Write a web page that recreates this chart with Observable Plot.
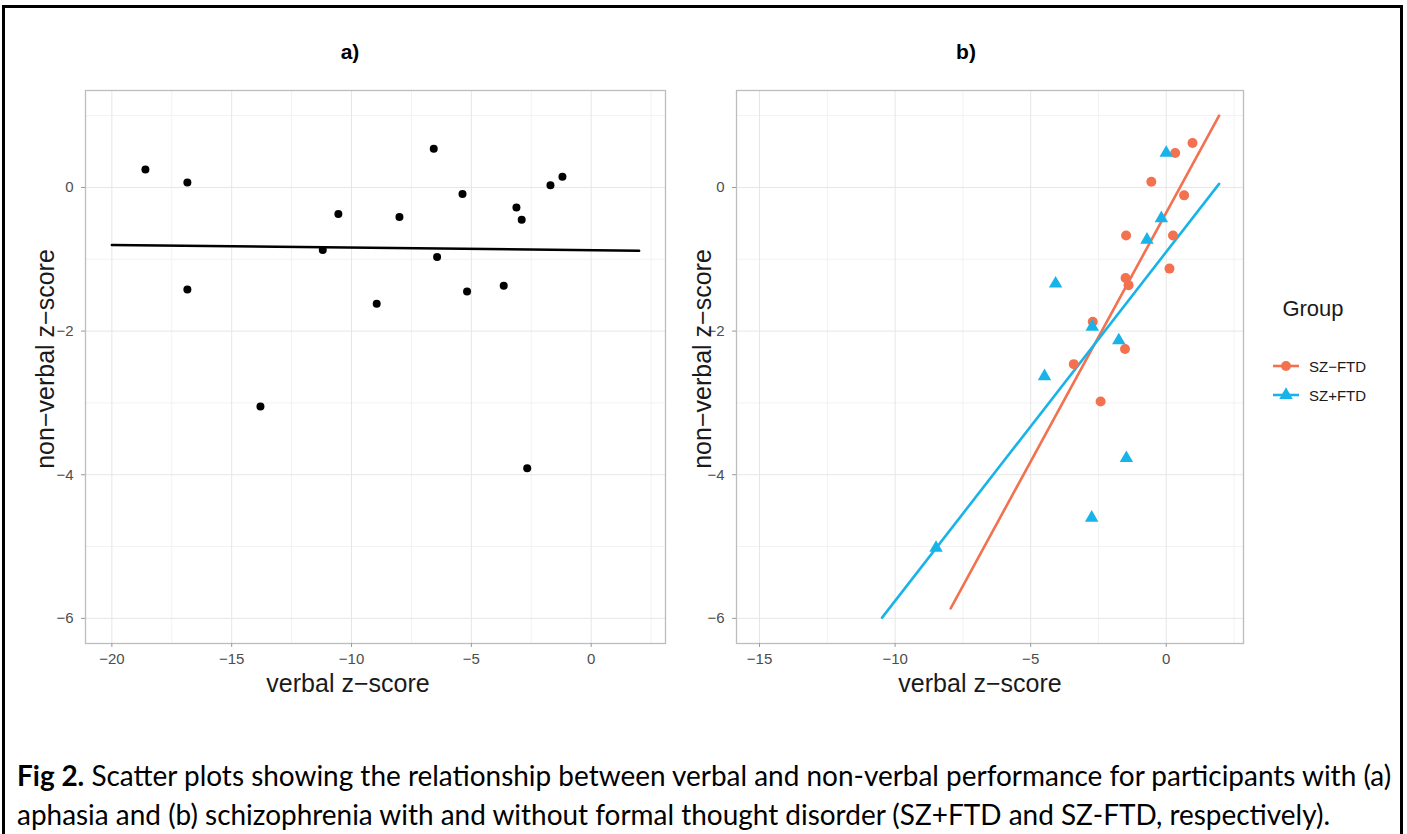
<!DOCTYPE html>
<html><head><meta charset="utf-8">
<script src="https://cdn.jsdelivr.net/npm/d3@7"></script>
<script src="https://cdn.jsdelivr.net/npm/@observablehq/plot@0.6"></script>
<style>
body{margin:0;background:#fff;font-family:"Liberation Sans",Arial,sans-serif;}
#page{position:relative;width:1407px;height:834px;overflow:hidden;background:#fff;}
#frame{position:absolute;left:2px;top:5px;width:1401px;height:900px;border:3px solid #000;box-sizing:border-box;}
.abs{position:absolute;white-space:nowrap;}
.c{transform:translate(-50%,-50%);}
.title{font-weight:bold;font-size:21px;color:#000;}
.axt{font-size:25px;color:#1a1a1a;}
.gt{font-size:22px;color:#1a1a1a;}
.ylab{transform:translate(-50%,-50%) rotate(-90deg);}
.leg{font-size:15px;color:#1a1a1a;}
.cap{font-family:Lato,"Open Sans",sans-serif;font-size:28px;line-height:1.15;color:#000;transform:translateY(-50%);}
svg [aria-label$="-axis tick"]{stroke:#9a9a9a;}
</style></head>
<body><div id="page"><div id="frame"></div></div>
<script>
// ---- Panel a: aphasia ----
const verbalA    = [-18.6, -16.85, -16.85, -13.8, -11.2, -10.55, -8.95, -8.0, -6.57, -6.43, -5.37, -5.18, -3.65, -3.12, -2.9, -2.67, -1.7, -1.2];
const nonverbalA = [0.25, 0.07, -1.42, -3.05, -0.87, -0.37, -1.62, -0.41, 0.54, -0.97, -0.09, -1.45, -1.37, -0.28, -0.45, -3.91, 0.03, 0.15];
const fitAx = [-20, 2];
const fitAy = [-0.80, -0.88];

// ---- Panel b: schizophrenia ----
const groups = ["SZ\u2212FTD", "SZ+FTD"];
const verbalMinus    = [0.33, 0.97, -0.55, 0.66, -1.48, 0.25, 0.12, -1.5, -1.39, -2.71, -1.52, -3.41, -2.42];
const nonverbalMinus = [0.48, 0.62, 0.08, -0.11, -0.67, -0.67, -1.13, -1.26, -1.36, -1.87, -2.25, -2.46, -2.98];
const verbalPlus     = [0.0, -0.18, -0.71, -4.08, -2.73, -1.75, -4.49, -1.47, -2.75, -8.49];
const nonverbalPlus  = [0.48, -0.43, -0.73, -1.34, -1.94, -2.13, -2.63, -3.77, -4.6, -5.02];
const fitMinusX = [-7.95, 1.95];
const fitMinusY = [-5.86, 1.0];
const fitPlusX  = [-10.48, 1.95];
const fitPlusY  = [-5.99, 0.05];

// ---- tick labels ----
const xTicksA = [-20, -15, -10, -5, 0];
const xMinorA = [-17.5, -12.5, -7.5, -2.5, 2.5];
const xTicksB = [-15, -10, -5, 0];
const xMinorB = [-12.5, -7.5, -2.5, 2.5];
const yTicks  = [0, -2, -4, -6];
const yMinor  = [1, -1, -3, -5];

const colors = ["#F3714F", "#18B4E9"];
const gridMajor = "#e6e6e6", gridMinor = "#f2f2f2";

const pointsA = verbalA.map((x, i) => ({x, y: nonverbalA[i]}));
const fitA = fitAx.map((x, i) => ({x, y: fitAy[i]}));
const pointsB = [
  ...verbalMinus.map((x, i) => ({x, y: nonverbalMinus[i], g: groups[0]})),
  ...verbalPlus.map((x, i) => ({x, y: nonverbalPlus[i], g: groups[1]}))
];
const fitB = [
  ...fitMinusX.map((x, i) => ({x, y: fitMinusY[i], g: groups[0]})),
  ...fitPlusX.map((x, i) => ({x, y: fitPlusY[i], g: groups[1]}))
];

const fmt = d3.format("d");
function gridMarks(xMaj, xMin) {
  return [
    Plot.gridX(xMin, {stroke: gridMinor, strokeOpacity: 1, strokeWidth: 1}),
    Plot.gridY(yMinor, {stroke: gridMinor, strokeOpacity: 1, strokeWidth: 1}),
    Plot.gridX(xMaj, {stroke: gridMajor, strokeOpacity: 1, strokeWidth: 1}),
    Plot.gridY(yTicks, {stroke: gridMajor, strokeOpacity: 1, strokeWidth: 1}),
    Plot.frame({stroke: "#bdbdbd", strokeWidth: 1.3}),
    Plot.axisX(xMaj, {tickSize: 4, tickPadding: 6, fontSize: 15, fill: "#4d4d4d", label: null, tickFormat: fmt}),
    Plot.axisY(yTicks, {tickSize: 4, tickPadding: 8, fontSize: 15, fill: "#4d4d4d", label: null, tickFormat: fmt})
  ];
}
const style = {fontFamily: "Liberation Sans, Arial, sans-serif", background: "transparent", overflow: "visible"};

const chartA = Plot.plot({
  width: 700, height: 700,
  marginLeft: 85, marginRight: 35, marginTop: 90, marginBottom: 57,
  x: {domain: [-21.1, 3.1], label: null},
  y: {domain: [-6.35, 1.35], label: null},
  style,
  marks: [
    ...gridMarks(xTicksA, xMinorA),
    Plot.line(fitA, {x: "x", y: "y", stroke: "#000", strokeWidth: 2.5}),
    Plot.dot(pointsA, {x: "x", y: "y", r: 4, fill: "#000"})
  ]
});

const chartB = Plot.plot({
  width: 560, height: 700,
  marginLeft: 46, marginRight: 7, marginTop: 90, marginBottom: 57,
  x: {domain: [-15.85, 2.85], label: null},
  y: {domain: [-6.35, 1.35], label: null},
  color: {domain: groups, range: colors},
  symbol: {domain: groups, range: ["circle", "triangle"]},
  style,
  marks: [
    ...gridMarks(xTicksB, xMinorB),
    Plot.line(fitB, {x: "x", y: "y", z: "g", stroke: "g", strokeWidth: 2.6}),
    Plot.dot(pointsB, {x: "x", y: "y", fill: "g", symbol: "g", r: 5})
  ]
});

const page = document.getElementById("page");
function place(el, left, top) {
  el.style.position = "absolute"; el.style.left = left + "px"; el.style.top = top + "px";
  page.appendChild(el);
}
place(chartA, 0, 0);
place(chartB, 690, 0);

function text(str, cls, x, y) {
  const d = document.createElement("div");
  d.className = "abs " + cls;
  d.style.left = x + "px"; d.style.top = y + "px";
  d.innerHTML = str;
  page.appendChild(d);
  return d;
}
text("a)", "c title", 350, 52);
text("b)", "c title", 966, 52);
text("verbal z\u2212score", "c axt", 348, 683);
text("verbal z\u2212score", "c axt", 980, 683);
text("non\u2212verbal z\u2212score", "ylab axt", 45, 359);
text("non\u2212verbal z\u2212score", "ylab axt", 702, 359);

// legend
text("Group", "c gt", 1313, 309);
const symbolsLeg = ["circle", "triangle"];
groups.forEach((g, i) => {
  const y = 366 + i * 29;
  const svg = d3.create("svg").attr("width", 30).attr("height", 24);
  svg.append("line").attr("x1", 2).attr("x2", 28).attr("y1", 12).attr("y2", 12)
    .attr("stroke", colors[i]).attr("stroke-width", 2.6);
  svg.append("path").attr("transform", "translate(15,12)")
    .attr("d", d3.symbol(symbolsLeg[i] === "circle" ? d3.symbolCircle : d3.symbolTriangle, Math.PI * 25)())
    .attr("fill", colors[i]);
  place(svg.node(), 1271, y - 12);
  const t = text(g, "leg", 1309, y);
  t.style.transform = "translateY(-50%)";
});

// caption (font fitted so the first line spans the same width as the reference)
const cap1 = text("<b>Fig 2.</b> Scatter plots showing the relationship between verbal and non-verbal performance for participants with (a)", "cap", 17, 775);
const cap2 = text("aphasia and (b) schizophrenia with and without formal thought disorder (SZ+FTD and SZ-FTD, respectively).", "cap", 17, 814);
const w = cap1.getBoundingClientRect().width;
const fs = 28 * 1375 / w;
cap1.style.fontSize = fs + "px";
cap2.style.fontSize = fs + "px";
</script>
</body></html>
